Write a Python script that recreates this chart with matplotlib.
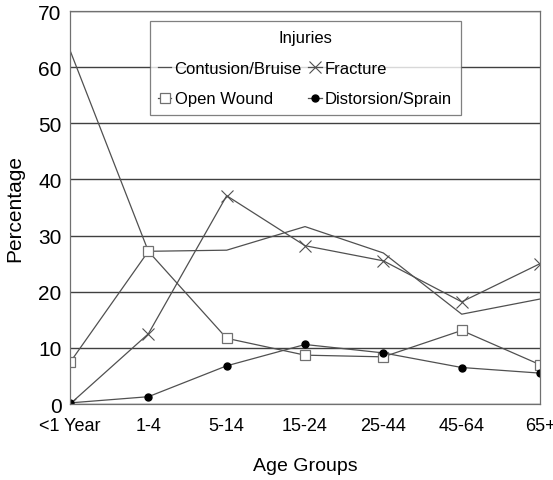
import matplotlib
matplotlib.use("Agg")
import matplotlib.pyplot as plt

plt.rcParams['font.family'] = ['Liberation Sans', 'DejaVu Sans']

categories = ["<1 Year", "1-4", "5-14", "15-24", "25-44", "45-64", "65+"]
contusion = [63.0, 27.2, 27.4, 31.6, 26.9, 16.0, 18.7]
fracture = [0.0, 12.5, 37.1, 28.2, 25.5, 18.2, 25.0]
open_wound = [7.4, 27.2, 11.7, 8.7, 8.4, 13.1, 7.0]
sprain = [0.2, 1.3, 6.8, 10.6, 9.1, 6.5, 5.5]
yticks = [0, 10, 20, 30, 40, 50, 60, 70]

fig = plt.figure(figsize=(5.53, 4.81), dpi=100)
ax = fig.add_axes([0.1266, 0.158, 0.85, 0.817])
x = list(range(len(categories)))
lc = "#505050"
l1, = ax.plot(x, contusion, color=lc, lw=0.9, label="Contusion/Bruise")
l2, = ax.plot(x, fracture, color=lc, lw=0.9, marker="x", ms=8, mew=0.8, label="Fracture")
l3, = ax.plot(x, open_wound, color=lc, lw=0.9, marker="s", ms=7, mfc="white", mec="#707070", mew=0.9, label="Open Wound")
l4, = ax.plot(x, sprain, color=lc, lw=0.9, marker="o", ms=5, mfc="black", mec="black", label="Distorsion/Sprain")

ax.set_xlim(0, 6)
ax.set_ylim(0, 70)
ax.set_yticks(yticks)
ax.set_xticks(x)
ax.set_xticklabels(categories)
ax.tick_params(axis="x", length=0, labelsize=13, pad=9)
ax.tick_params(axis="y", length=0, labelsize=15, pad=6)
ax.yaxis.grid(True, color="#404040", lw=1.0)
ax.set_axisbelow(True)
for s in ax.spines.values():
    s.set_color("#707070")
    s.set_linewidth(0.9)
ax.set_ylabel("Percentage", fontsize=15, labelpad=10)
ax.set_xlabel("Age Groups", fontsize=14, labelpad=17)

leg = ax.legend(handles=[l1, l3, l2, l4], ncol=2, title="Injuries", fontsize=12,
                title_fontsize=12, loc="upper center", bbox_to_anchor=(0.5, 0.982),
                frameon=True, fancybox=False, edgecolor="#606060", handlelength=0.8,
                handletextpad=0.2, columnspacing=0.4, borderpad=0.5, labelspacing=0.95,
                borderaxespad=0.2)
leg.get_frame().set_linewidth(0.9)
fig.savefig("out.png", dpi=100)
